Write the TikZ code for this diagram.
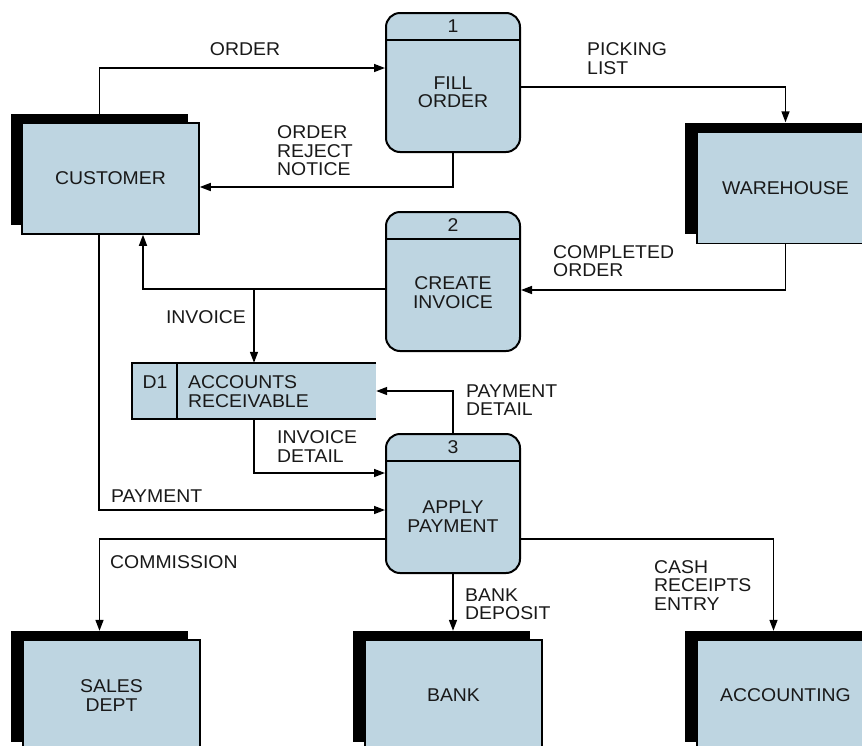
\documentclass[tikz,border=0pt]{standalone}
\usepackage{fontspec}
\setmainfont{Liberation Sans}[FakeStretch=1.05]
\usetikzlibrary{arrows.meta}
\definecolor{boxblue}{RGB}{190,213,225}
\begin{document}
\begin{tikzpicture}[x=1pt,y=-1pt,
  every node/.style={font=\fontsize{18.5}{18.5}\selectfont, inner sep=0pt, text=black!90},
  arr/.style={line width=1.5pt, -{Triangle[length=11pt,width=8pt]}},
  front/.style={draw, line width=1.5pt, fill=boxblue, minimum width=177pt, minimum height=111pt, align=center},
  shade/.style={fill=black, minimum width=177pt, minimum height=111pt},
  proc/.style={draw, line width=2pt, fill=boxblue, rounded corners=14pt, minimum width=134pt, minimum height=139pt},
  ptext/.style={align=center},
  lbl/.style={align=left, anchor=west},
]
\useasboundingbox (0,0) rectangle (862,745);
\clip (0,0) rectangle (862,745);

% external entities
\node[shade] (custS) at (99.5,169.5) {};
\node[front] (cust) at (110.5,178.5) {CUSTOMER};
\node[shade] (whS) at (773.5,178) {};
\node[front] (wh) at (785.5,188) {WAREHOUSE};
\node[shade] (salesS) at (99.5,686.5) {};
\node[front] (sales) at (111.5,695.5) {SALES\\DEPT};
\node[shade] (bankS) at (441.5,686.5) {};
\node[front] (bank) at (453.5,695.5) {BANK};
\node[shade] (accS) at (773.5,686.5) {};
\node[front] (acc) at (785.5,695.5) {ACCOUNTING};

% processes
\node[proc] (fill) at (453,82.5) {};
\draw[line width=2pt] ([yshift=-28pt]fill.north west) -- ([yshift=-28pt]fill.north east);
\node (fillN) at ([yshift=-14pt]fill.north) {1};
\node[ptext] (fillT) at (453,92) {FILL\\ORDER};

\node[proc] (inv) at (453,281.5) {};
\draw[line width=2pt] ([yshift=-28pt]inv.north west) -- ([yshift=-28pt]inv.north east);
\node (invN) at ([yshift=-14pt]inv.north) {2};
\node[ptext] (invT) at (453,292.5) {CREATE\\INVOICE};

\node[proc] (pay) at (453,503.5) {};
\draw[line width=2pt] ([yshift=-28pt]pay.north west) -- ([yshift=-28pt]pay.north east);
\node (payN) at ([yshift=-14pt]pay.north) {3};
\node[ptext] (payT) at (453,516.5) {APPLY\\PAYMENT};

% data store
\node[fill=boxblue, minimum width=244pt, minimum height=56pt] (ds) at (254,391) {};
\draw[line width=1.5pt] (ds.north east) -- (ds.north west) -- (ds.south west) -- (ds.south east);
\draw[line width=1.5pt] ([xshift=45pt]ds.north west) -- ([xshift=45pt]ds.south west);
\node (dsN) at (155,382) {D1};
\node[lbl] (dsT) at (188,391.5) {ACCOUNTS\\RECEIVABLE};

% flows
\draw[arr] (custS.north) |- (fill.west |- 0,68);
\node (lOrder) at (245,49) {ORDER};

\draw[arr] (fill.east |- 0,87) -| (wh.center |- whS.north);
\node[lbl] (lPick) at (587,58.5) {PICKING\\LIST};

\draw[arr] (fill.south) |- (cust.east |- 0,187);
\node[lbl] (lReject) at (277,151) {ORDER\\REJECT\\NOTICE};

\draw[arr] (wh.south) |- (inv.east |- 0,290);
\node[lbl] (lComp) at (553,261) {COMPLETED\\ORDER};

\draw[arr] (inv.west |- 0,289) -| (cust.south -| 143,0);
\draw[arr] (ds.north |- 0,289) -- (ds.north);
\node (lInv) at (206,317) {INVOICE};

\draw[arr] (pay.north) |- (ds.east);
\node[lbl] (lPD) at (466,400) {PAYMENT\\DETAIL};

\draw[arr] (ds.south) |- (pay.west |- 0,473);
\node[lbl] (lID) at (277,446.5) {INVOICE\\DETAIL};

\draw[arr] (cust.south -| 99,0) |- (pay.west |- 0,510);
\node[lbl] (lPay) at (111,496) {PAYMENT};

\draw[arr] (pay.west |- 0,539) -| (salesS.north);
\node[lbl] (lCom) at (110,562) {COMMISSION};

\draw[arr] (pay.south) -- (pay.south |- bankS.north);
\node[lbl] (lBank) at (465,604) {BANK\\DEPOSIT};

\draw[arr] (pay.east |- 0,539) -| (accS.north);
\node[lbl] (lCash) at (654,585.5) {CASH\\RECEIPTS\\ENTRY};
\end{tikzpicture}
\end{document}
